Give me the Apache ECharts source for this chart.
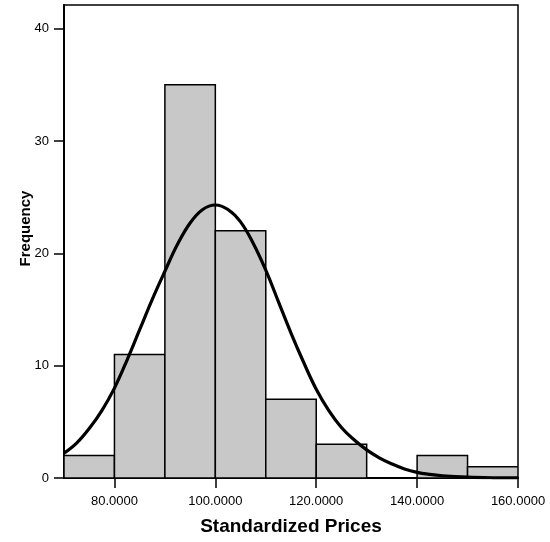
<!DOCTYPE html>
<html>
<head>
<meta charset="utf-8">
<script src="https://cdn.jsdelivr.net/npm/echarts@6/dist/echarts.min.js"></script>
<style>
  html, body { margin: 0; padding: 0; background: #fff; }
  #chart { width: 550px; height: 542px; }
</style>
</head>
<body>
<div id="chart"></div>
<script>
// Histogram bins: lower edge, upper edge, frequency
const binStarts = [70, 80, 90, 100, 110, 120, 130, 140, 150];
const binEnds   = [80, 90, 100, 110, 120, 130, 140, 150, 160];
const frequencies = [2, 11, 35, 22, 7, 3, 0, 2, 1];

// Fitted normal curve, sampled along the price axis
const curveX = [70, 72.5, 75, 77.5, 80, 82.5, 85, 87.5, 90, 92.5, 95, 97.5, 100,
                102.5, 105, 107.5, 110, 112.5, 115, 117.5, 120, 122.5, 125, 127.5,
                130, 132.5, 135, 137.5, 140, 142.5, 145, 150, 155, 160];
const curveY = [2.2, 3.1, 4.4, 6.0, 8.0, 10.5, 13.2, 15.9, 18.4, 20.8, 22.7, 23.9, 24.3,
                23.9, 22.8, 20.9, 18.5, 15.7, 12.9, 10.3, 7.9, 6.0, 4.5, 3.4,
                2.5, 1.8, 1.25, 0.8, 0.5, 0.32, 0.2, 0.07, 0.02, 0.01];

// Axis ticks
const xTicks = [80, 100, 120, 140, 160];
const yTicks = [0, 10, 20, 30, 40];

const FONT = "'Liberation Sans', Arial, Helvetica, sans-serif";

const binData = binStarts.map((s, i) => [s, binEnds[i], frequencies[i]]);
const curveData = curveX.map((x, i) => [x, curveY[i]]);

const chart = echarts.init(document.getElementById('chart'), null, { renderer: 'canvas' });

chart.setOption({
  animation: false,
  backgroundColor: '#ffffff',
  grid: {
    left: 64, right: 32, top: 5, bottom: 64,
    show: true, borderColor: '#000', borderWidth: 1.5, backgroundColor: 'transparent'
  },
  xAxis: {
    type: 'value',
    min: 70, max: 160,
    name: 'Standardized Prices',
    nameLocation: 'middle',
    nameGap: 39,
    nameMoveOverlap: false,
    nameTextStyle: { fontFamily: FONT, fontSize: 19, fontWeight: 'bold', color: '#000' },
    axisLine: { show: true, onZero: false, lineStyle: { color: '#000', width: 2 } },
    axisTick: { show: true, inside: false, length: 10, customValues: xTicks, lineStyle: { color: '#000', width: 1.5 } },
    axisLabel: {
      show: true, margin: 17, customValues: xTicks,
      fontFamily: FONT, fontSize: 13, color: '#000',
      formatter: v => v.toFixed(4)
    },
    splitLine: { show: false }
  },
  yAxis: {
    type: 'value',
    min: 0, max: 42.1,
    name: 'Frequency',
    nameLocation: 'middle',
    nameRotate: 90,
    nameGap: 31,
    nameMoveOverlap: false,
    nameTextStyle: { fontFamily: FONT, fontSize: 15, fontWeight: 'bold', color: '#000', padding: [0, 0, 0, 26] },
    axisLine: { show: true, lineStyle: { color: '#000', width: 2 } },
    axisTick: { show: true, inside: false, length: 10, customValues: yTicks, lineStyle: { color: '#000', width: 1.5 } },
    axisLabel: {
      show: true, margin: 15, customValues: yTicks,
      fontFamily: FONT, fontSize: 13, color: '#000'
    },
    splitLine: { show: false }
  },
  series: [
    {
      type: 'custom',
      name: 'Frequency',
      data: binData,
      encode: { x: [0, 1], y: 2 },
      clip: true,
      renderItem: function (params, api) {
        const lo = api.coord([api.value(0), 0]);
        const hi = api.coord([api.value(1), api.value(2)]);
        return {
          type: 'rect',
          shape: { x: lo[0], y: hi[1], width: hi[0] - lo[0], height: lo[1] - hi[1] },
          style: { fill: '#c8c8c8', stroke: '#000', lineWidth: 1.5 }
        };
      },
      z: 2
    },
    {
      type: 'line',
      data: curveData,
      smooth: 0.4,
      symbol: 'none',
      clip: true,
      lineStyle: { color: '#000', width: 3.2 },
      z: 3
    }
  ]
});
</script>
</body>
</html>
